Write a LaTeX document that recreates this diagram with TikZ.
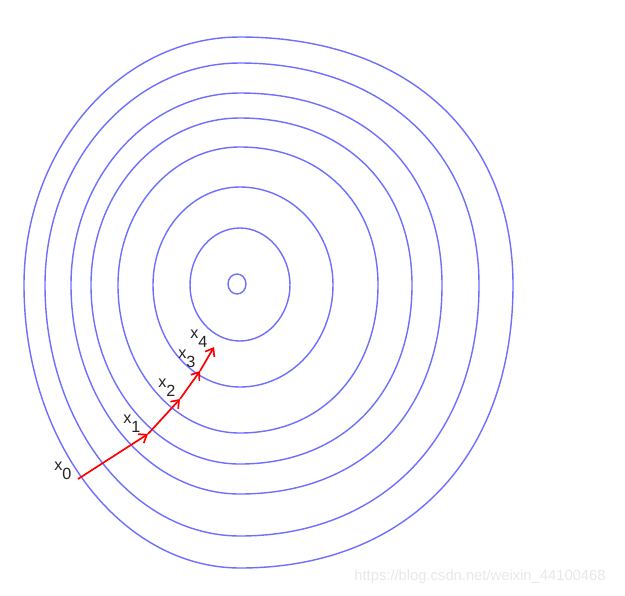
\documentclass[tikz,border=0pt]{standalone}
\usepackage{fontspec}
\setmainfont{Liberation Sans}
\usetikzlibrary{arrows.meta}

\definecolor{contourblue}{RGB}{110,110,255}
\definecolor{labelgray}{RGB}{35,35,35}
\newcommand{\lowsub}[1]{\raisebox{-6.5pt}{#1}}
\newcommand{\levelring}[5]{%
	\draw[contour] (240-#1,285) .. controls +(0,-0.5523*#3) and +(-0.5523*#1,0) .. (240,285-#3)
		.. controls +(#5*#2,0) and +(0,-#5*#3) .. (240+#2,285)
		.. controls +(0,#5*#4) and +(#5*#2,0) .. (240,285+#4)
		.. controls +(-0.5523*#1,0) and +(0,0.5523*#4) .. cycle;}

\begin{document}
\begin{tikzpicture}[x=0.025cm,y=-0.025cm,
	contour/.style={draw=contourblue,line width=1pt},
	gradstep/.style={-{Straight Barb[length=5pt,width=7.5pt]},red,line width=1.2pt},
	iterlabel/.style={anchor=base west,inner sep=0pt,text=labelgray,font=\fontsize{11.5}{13}\selectfont}]
	\useasboundingbox (0,0) rectangle (625,595);
	\levelring{216}{273}{248}{283}{0.61}
	\levelring{195}{239}{222}{251}{0.6}
	\levelring{169}{202}{192}{209}{0.61}
	\levelring{149}{172}{167}{179}{0.6}
	\levelring{122}{138}{138}{148}{0.59}
	\levelring{87}{93}{98}{102}{0.5523}
	\levelring{50}{50}{57}{56}{0.54}
	\draw[contour] (237,284) ellipse[x radius=9,y radius=10];

	\coordinate (p0) at (78,479);
	\coordinate (p1) at (148,434);
	\coordinate (p2) at (180,399);
	\coordinate (p3) at (200,371);
	\coordinate (p4) at (214,347);
	\draw[gradstep] (p0) -- (p1);
	\draw[gradstep] (p1) -- (p2);
	\draw[gradstep] (p2) -- (p3);
	\draw[gradstep] (p3) -- (p4);

	\node[iterlabel] (x0) at (54,470) {x\lowsub{0}};
	\node[iterlabel] (x1) at (123,423) {x\lowsub{1}};
	\node[iterlabel] (x2) at (158,387) {x\lowsub{2}};
	\node[iterlabel] (x3) at (178,358) {x\lowsub{3}};
	\node[iterlabel] (x4) at (190,338) {x\lowsub{4}};

	\node[text=black!9,font=\fontsize{10.5}{12}\selectfont] (watermark) at (480,577) {https://blog.csdn.net/weixin\_44100468};
\end{tikzpicture}
\end{document}
